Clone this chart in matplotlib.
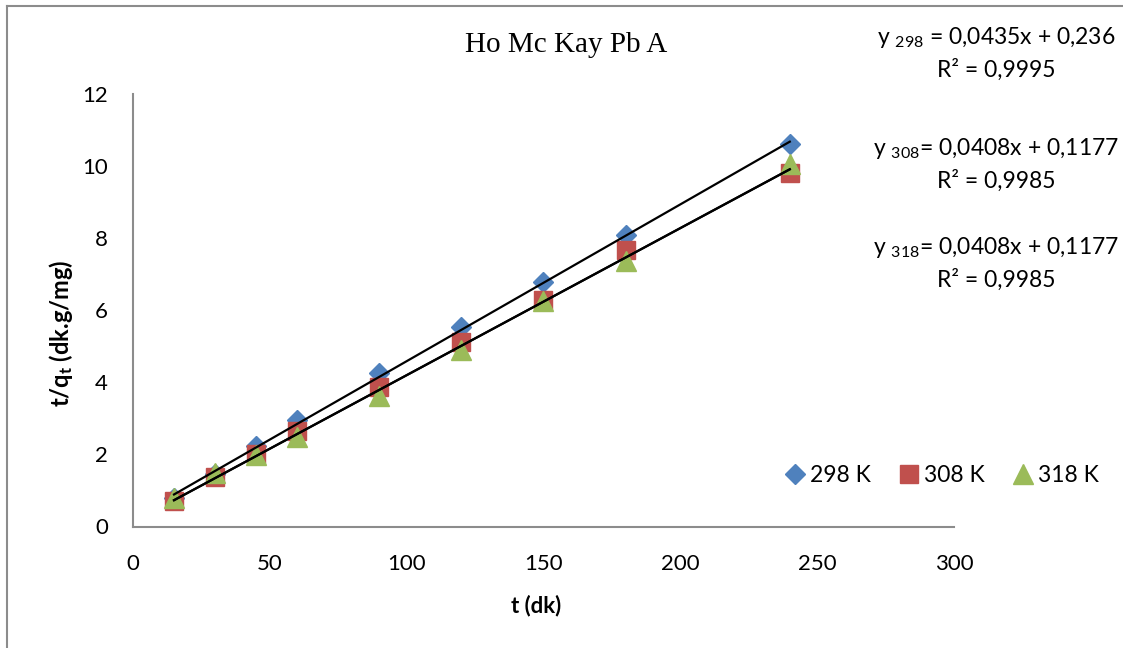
import matplotlib
matplotlib.use("Agg")
from matplotlib import pyplot as plt
from matplotlib.lines import Line2D
import numpy as np

# Pseudo-second-order kinetics (Ho & McKay), Pb on adsorbent A
t_min = [15, 30, 45, 60, 90, 120, 150, 180, 240]
tq_298 = [0.78, 1.45, 2.22, 2.96, 4.26, 5.54, 6.77, 8.10, 10.61]
tq_308 = [0.70, 1.37, 2.01, 2.65, 3.88, 5.12, 6.28, 7.67, 9.81]
tq_318 = [0.79, 1.48, 1.98, 2.48, 3.62, 4.90, 6.25, 7.36, 10.05]

# linear fit coefficients (slope, intercept, R2) as reported
fit_298 = (0.0435, 0.236, 0.9995)
fit_308 = (0.0408, 0.1177, 0.9985)
fit_318 = (0.0408, 0.1177, 0.9985)

x_ticks = [0, 50, 100, 150, 200, 250, 300]
y_ticks = [0, 2, 4, 6, 8, 10, 12]

plt.rcParams['font.family'] = ['Lato', 'DejaVu Sans']
plt.rcParams['mathtext.fontset'] = 'custom'
plt.rcParams['mathtext.rm'] = 'Lato'
plt.rcParams['mathtext.it'] = 'Lato:italic'
plt.rcParams['mathtext.bf'] = 'Lato:bold'

fig = plt.figure(figsize=(11.23, 6.48), dpi=100)
ax = fig.add_axes([0.1184, 0.1875, 0.7311, 0.6675])

# chart frame (left and top edges)
frame_col = '#8c8c8c'
fig.add_artist(Line2D([7 / 1123, 7 / 1123], [0, 1 - 6 / 648], transform=fig.transFigure,
                      color=frame_col, lw=1.5))
fig.add_artist(Line2D([7 / 1123, 1], [1 - 6 / 648, 1 - 6 / 648], transform=fig.transFigure,
                      color=frame_col, lw=1.5))

blue = '#4F81BD'
red = '#C0504D'
green = '#9BBB59'

ax.plot(t_min, tq_298, linestyle='none', marker='D', ms=10.5, color=blue, label='298 K')
ax.plot(t_min, tq_308, linestyle='none', marker='s', ms=13, color=red, label='308 K')
ax.plot(t_min, tq_318, linestyle='none', marker='^', ms=14, color=green, label='318 K')

# trend lines from the fitted equations
x_line = np.array([t_min[0], t_min[-1]])
for slope, icpt, _ in (fit_298, fit_308, fit_318):
    ax.plot(x_line, slope * x_line + icpt, color='black', lw=1.6)

ax.set_xlim(0, 300)
ax.set_ylim(0, 12)
ax.set_xticks(x_ticks)
ax.set_yticks(y_ticks)
ax.tick_params(length=0, labelsize=16)
ax.tick_params(axis='y', pad=18)
ax.tick_params(axis='x', pad=20)
for side in ('top', 'right'):
    ax.spines[side].set_visible(False)
for side in ('left', 'bottom'):
    ax.spines[side].set_color('#8c8c8c')
    ax.spines[side].set_linewidth(1.5)

ax.set_xlabel('t (dk)', fontsize=16, fontweight='bold')
ax.xaxis.set_label_coords(0.4915, -0.158)
ax.set_ylabel(r'$\mathbf{t/q}_{\mathbf{t}}$ (dk.g/mg)', fontsize=17, fontweight='bold')
ax.yaxis.set_label_coords(-0.071, 0.447)

fig.text(566 / 1123, 1 - 45 / 648, 'Ho Mc Kay Pb A', family='Liberation Serif',
         fontsize=21, ha='center', va='center')

# fitted equations
def fmt(v):
    return ('%g' % v).replace('.', ',')

eq_rows = [('298', ' ', fit_298, 53), ('308', '', fit_308, 164), ('318', '', fit_318, 263)]
for temp, gap, (slope, icpt, r2), ypix in eq_rows:
    fig.text(996 / 1123, 1 - ypix / 648,
             'y $_{%s}$%s= %sx + %s\nR² = %s' % (temp, gap, fmt(slope), fmt(icpt), fmt(r2)),
             fontsize=16.5, ha='center', va='center', linespacing=1.5, multialignment='center')

fig.legend(loc='center left', bbox_to_anchor=(786 / 1123, 1 - 476 / 648), ncol=3,
           frameon=False, fontsize=16.5, handletextpad=0.26, columnspacing=1.25,
           handlelength=0.8, borderpad=0, borderaxespad=0)

fig.savefig('out.png', dpi=100)
